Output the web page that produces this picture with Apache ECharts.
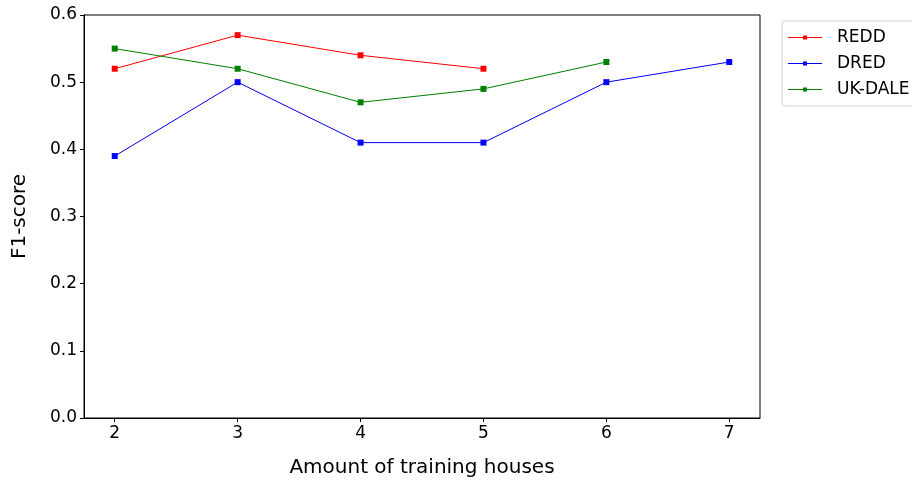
<!DOCTYPE html>
<html>
<head>
<meta charset="utf-8">
<script src="https://cdn.jsdelivr.net/npm/echarts@6/dist/echarts.min.js"></script>
<style>html,body{margin:0;padding:0;background:#fff}#c{width:912px;height:480px}</style>
</head>
<body>
<div id="c"></div>
<script>
// Number of training houses on the x axis
const houses = [2, 3, 4, 5, 6, 7];
// F1-score per dataset
const redd = [0.52, 0.57, 0.54, 0.52];
const dred = [0.39, 0.50, 0.41, 0.41, 0.50, 0.53];
const ukdale = [0.55, 0.52, 0.47, 0.49, 0.53];
const yTicks = [0, 0.1, 0.2, 0.3, 0.4, 0.5, 0.6];

const font = 'DejaVu Sans';
const pair = (vals) => vals.map((v, i) => [houses[i], v]);
const legendIcon = 'path://M0,4.5H34V5.5H0Z M15,3H19V7H15Z';

function series(name, vals, color) {
  return {
    name, type: 'line', data: pair(vals),
    symbol: 'rect', symbolSize: 6,
    lineStyle: { color, width: 1 },
    itemStyle: { color },
    emphasis: { disabled: true },
    animation: false
  };
}

const chart = echarts.init(document.getElementById('c'), null, { renderer: 'canvas' });
chart.setOption({
  backgroundColor: '#fff',
  animation: false,
  textStyle: { fontFamily: font },
  grid: { left: 84, right: 152, top: 15, bottom: 62, outerBoundsMode: 'none', containLabel: false,
    show: true, borderColor: '#000', borderWidth: 1, backgroundColor: 'transparent' },
  legend: {
    orient: 'vertical', left: 782, top: 21,
    itemWidth: 34, itemHeight: 10, itemGap: 9,
    padding: [8, 8, 8, 6],
    borderColor: '#d0d0d0', borderWidth: 1, borderRadius: 3,
    textStyle: { fontFamily: font, fontSize: 17, color: '#000', padding: [0, 0, 0, 10] },
    data: [
      { name: 'REDD', icon: legendIcon, itemStyle: { color: '#ff0000' } },
      { name: 'DRED', icon: legendIcon, itemStyle: { color: '#0000ff' } },
      { name: 'UK-DALE', icon: legendIcon, itemStyle: { color: '#008000' } }
    ]
  },
  xAxis: {
    type: 'value', min: 1.75, max: 7.25,
    name: 'Amount of training houses', nameLocation: 'middle', nameGap: 40,
    nameTextStyle: { fontFamily: font, fontSize: 20, color: '#000' },
    axisLine: { show: true, lineStyle: { color: '#000', width: 1 } },
    axisTick: { show: true, inside: false, length: 4, customValues: houses, lineStyle: { color: '#000' } },
    axisLabel: { customValues: houses, fontFamily: font, fontSize: 17, color: '#000', margin: 7 },
    splitLine: { show: false }
  },
  yAxis: {
    type: 'value', min: 0, max: 0.6, interval: 0.1,
    name: 'F1-score', nameLocation: 'middle', nameGap: 54, nameRotate: 90,
    nameTextStyle: { fontFamily: font, fontSize: 20, color: '#000' },
    axisLine: { show: true, lineStyle: { color: '#000', width: 1 } },
    axisTick: { show: true, length: 4, lineStyle: { color: '#000' } },
    axisLabel: { fontFamily: font, fontSize: 17, color: '#000', margin: 7,
      formatter: (v) => yTicks.find(t => Math.abs(t - v) < 1e-9).toFixed(1) },
    splitLine: { show: false }
  },
  series: [
    series('REDD', redd, '#ff0000'),
    series('DRED', dred, '#0000ff'),
    series('UK-DALE', ukdale, '#008000')
  ]
});
</script>
</body>
</html>
